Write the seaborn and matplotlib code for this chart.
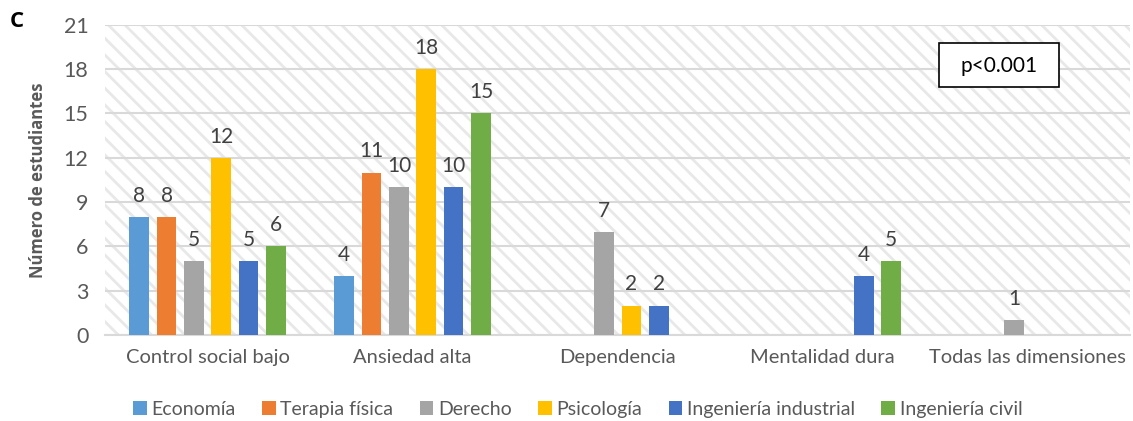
import pandas as pd
import matplotlib.pyplot as plt
import matplotlib.patches as mpatches
import seaborn as sns

# data
categorias = ['Control social bajo', 'Ansiedad alta', 'Dependencia',
              'Mentalidad dura', 'Todas las dimensiones']
carreras = ['Economía', 'Terapia física', 'Derecho', 'Psicología',
            'Ingeniería industrial', 'Ingeniería civil']
economia = [8, 4, 0, 0, 0]
terapia = [8, 11, 0, 0, 0]
derecho = [5, 10, 7, 0, 1]
psicologia = [12, 18, 2, 0, 0]
ing_industrial = [5, 10, 2, 4, 0]
ing_civil = [6, 15, 0, 5, 0]
colores = ['#5B9BD5', '#ED7D31', '#A5A5A5', '#FFC000', '#4472C4', '#70AD47']

series = [economia, terapia, derecho, psicologia, ing_industrial, ing_civil]
rows = []
for carrera, vals in zip(carreras, series):
    for cat, v in zip(categorias, vals):
        rows.append({'categoria': cat, 'carrera': carrera, 'n': v})
df = pd.DataFrame(rows)

sns.set_style('white')
plt.rcParams['font.family'] = ['Lato', 'DejaVu Sans']
plt.rcParams['hatch.color'] = '#E8E8E8'
plt.rcParams['hatch.linewidth'] = 2.0

fig = plt.figure(figsize=(11.33, 4.21), dpi=100)
ax = fig.add_axes([0.0927, 0.204, 0.905, 0.737])

# hatched background like the original
bg = mpatches.Rectangle((0, 0), 1, 1, transform=ax.transAxes, facecolor='white',
                        edgecolor='#E8E8E8', hatch='\\\\', linewidth=0, zorder=0)
ax.add_patch(bg)

sns.barplot(data=df, x='categoria', y='n', hue='carrera', hue_order=carreras,
            order=categorias, palette=colores, saturation=1, width=0.8, gap=0.28,
            linewidth=0, ax=ax, zorder=3)

for cont in ax.containers:
    labels = [f'{int(b.get_height())}' if b.get_height() > 0 else '' for b in cont]
    ax.bar_label(cont, labels=labels, padding=8, fontsize=15, color='#404040')

ax.set_ylim(0, 21)
ax.set_yticks(range(0, 22, 3))
ax.set_xlim(-0.5, 4.5)
ax.grid(axis='y', color='#D9D9D9', linewidth=1.5, zorder=1)
ax.set_axisbelow(True)
for s in ['top', 'right', 'left']:
    ax.spines[s].set_visible(False)
ax.spines['bottom'].set_color('#D9D9D9')
ax.spines['bottom'].set_linewidth(1.5)
ax.tick_params(axis='y', labelsize=15.5, colors='#595959', length=0, pad=12)
ax.tick_params(axis='x', labelsize=14.5, colors='#595959', length=0, pad=10)
ax.set_xlabel('')
ax.set_ylabel('Número de estudiantes', fontsize=12, fontweight='bold',
              family='Open Sans', color='#595959', labelpad=12)

handles, lbls = ax.get_legend_handles_labels()
ax.legend_.remove()
fig.legend(handles, lbls, loc='center', bbox_to_anchor=(0.51, 0.028), ncol=6,
           frameon=False, fontsize=14, handlelength=0.7, handleheight=0.7,
           handletextpad=0.25, columnspacing=1.35, labelcolor='#595959')

fig.text(0.009, 0.935, 'C', fontsize=16, fontweight='bold', family='Open Sans',
         color='black')

box = mpatches.Rectangle((939 / 1133, 1 - 87 / 421), 120 / 1133, 44 / 421,
                         transform=fig.transFigure, facecolor='white',
                         edgecolor='black', linewidth=1.2, zorder=5)
fig.patches.append(box)
fig.text(999 / 1133, 1 - 66 / 421, 'p<0.001', ha='center', va='center',
         fontsize=15, color='black', zorder=6)

fig.savefig('out.png', dpi=100)
